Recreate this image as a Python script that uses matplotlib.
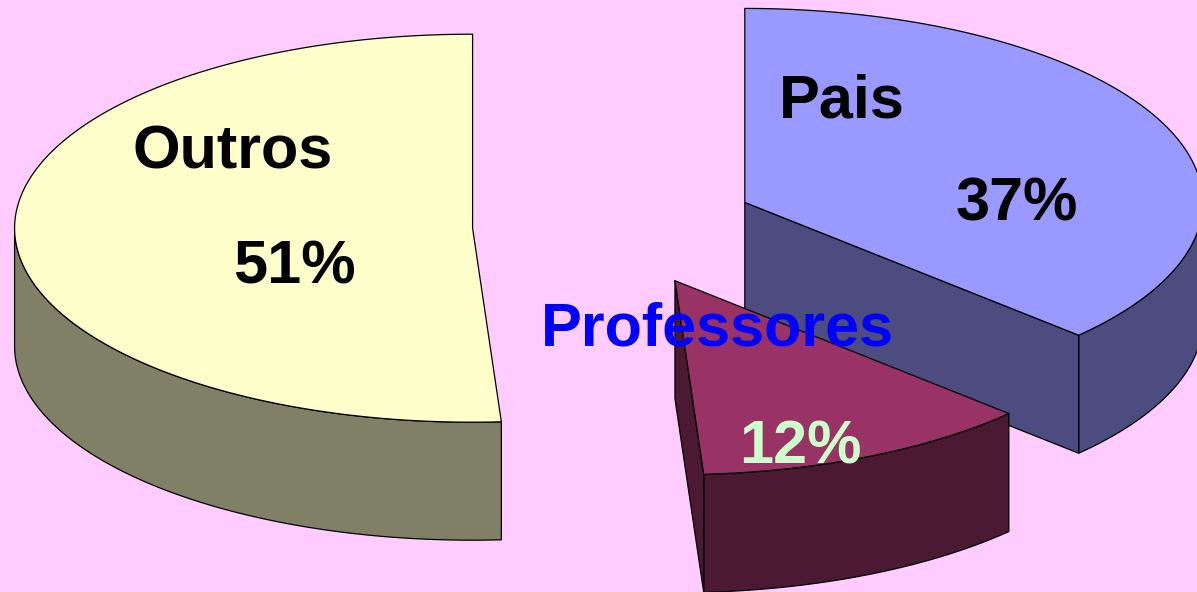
"""
Exploded 3D pie: Pais / Professores / Outros.
Drawn by hand as flat polygons in pixel space (top face + visible walls).
"""

import numpy as np
import matplotlib
matplotlib.use('Agg')
import matplotlib.pyplot as plt
from matplotlib.patches import Polygon

# data, clockwise from 12 o'clock
labels = ['Pais', 'Professores', 'Outros']
values = [37, 12, 51]
pct_labels = ['37%', '12%', '51%']

# colours (top face, side wall, label colours)
top_colors = ['#9999FF', '#993366', '#FFFFCC']
side_colors = ['#4C4C80', '#4C1933', '#808066']
name_colors = ['black', '#0000FF', 'black']
pct_colors = ['black', '#CCFFCC', 'black']
bg = '#FFCCFF'

# geometry in pixels (y grows downward)
W, H = 1197, 592
cx0, cy0 = 614.5, 226.3   # pie centre before exploding
A, B = 458., 194.         # ellipse half axes of the top face
depth = 118.
explode = 0.31

# label offsets from each (exploded) slice centre, baseline anchored
name_off = [(97, -85), (42, 65), (-240, -60)]
pct_off = [(272, 18), (125, 183), (-178, 55)]


def pt(cx, cy, th, dz=0.):
    # point on the rim, th in degrees
    t = np.radians(th)
    return cx + A*np.cos(t), cy - B*np.sin(t) + dz


def arc(cx, cy, t1, t2, dz=0., n=200):
    ts = np.linspace(t1, t2, n)
    return [pt(cx, cy, t, dz) for t in ts]


fig = plt.figure(figsize=(W/100., H/100.), dpi=100)
fig.patch.set_facecolor(bg)
ax = fig.add_axes([0, 0, 1, 1])
ax.set_facecolor(bg)
ax.set_xlim(0, W)
ax.set_ylim(H, 0)
ax.axis('off')

# work out slice angles and exploded centres
fracs = np.array(values, dtype=float) / sum(values)
slices = []
start = 90.
for i, f in enumerate(fracs):
    end = start - 360.*f
    mid = np.radians((start + end)/2.)
    cx = cx0 + explode*A*np.cos(mid)
    cy = cy0 - explode*B*np.sin(mid)
    slices.append((i, start, end, cx, cy))
    start = end

# painter's order: back slices first
slices.sort(key=lambda s: s[4])

ekw = dict(edgecolor='black', linewidth=0.9, joinstyle='round')

for i, t1, t2, cx, cy in slices:
    # outer wall, only the front half (sin < 0) shows
    for k in range(-2, 2):
        lo, hi = -180. + 360.*k, 0. + 360.*k
        a, b = max(t2, lo), min(t1, hi)
        if b - a > 0.01:
            poly = arc(cx, cy, b, a) + arc(cx, cy, a, b, depth)
            ax.add_patch(Polygon(poly, closed=True, facecolor=side_colors[i], **ekw))
    # radial faces
    if np.cos(np.radians(t1)) < -1e-3:
        poly = [(cx, cy), pt(cx, cy, t1), pt(cx, cy, t1, depth), (cx, cy+depth)]
        ax.add_patch(Polygon(poly, closed=True, facecolor=side_colors[i], **ekw))
    if np.cos(np.radians(t2)) > 1e-3:
        poly = [(cx, cy), pt(cx, cy, t2), pt(cx, cy, t2, depth), (cx, cy+depth)]
        ax.add_patch(Polygon(poly, closed=True, facecolor=side_colors[i], **ekw))
    # top face
    poly = [(cx, cy)] + arc(cx, cy, t1, t2)
    ax.add_patch(Polygon(poly, closed=True, facecolor=top_colors[i], **ekw))

# labels on top of everything
for i, t1, t2, cx, cy in slices:
    ax.text(cx + name_off[i][0], cy + name_off[i][1], labels[i],
            ha='center', va='baseline', fontsize=44, fontweight='bold',
            family='Liberation Sans', color=name_colors[i], zorder=10)
    ax.text(cx + pct_off[i][0], cy + pct_off[i][1], pct_labels[i],
            ha='center', va='baseline', fontsize=44, fontweight='bold',
            family='Liberation Sans', color=pct_colors[i], zorder=10)

fig.savefig('out.png', dpi=100, facecolor=bg)
